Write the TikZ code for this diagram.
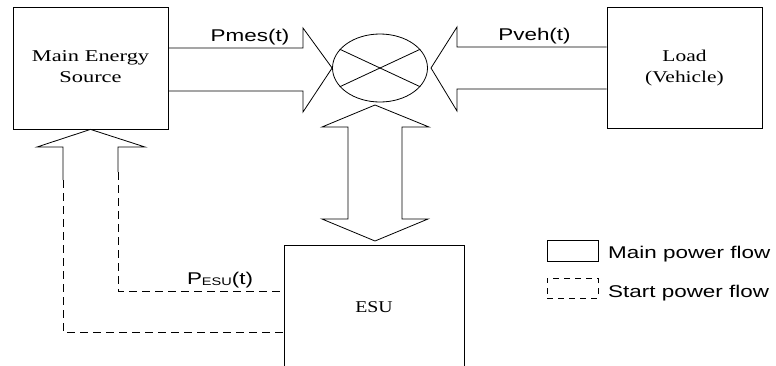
\documentclass[tikz,border=0pt]{standalone}
\usepackage{fontspec}
\setmainfont{Liberation Serif}
\setsansfont{Liberation Sans}
\usetikzlibrary{shapes.geometric,calc}
\newcommand{\hstretch}[2]{\scalebox{#1}[1]{#2}}
\begin{document}
\begin{tikzpicture}[x=1pt,y=-1pt,
  box/.style={draw,line width=0.8pt,rectangle,inner sep=0pt,font=\fontsize{16.5}{21}\selectfont},
  flow/.style={draw,line width=0.8pt,line join=miter},
  startflow/.style={draw,line width=0.8pt,dash pattern=on 8pt off 5pt},
  lbl/.style={font=\sffamily\fontsize{17}{20}\selectfont,inner sep=0pt,anchor=base}]
\useasboundingbox (0,0) rectangle (776,365);
\clip (0,0) rectangle (776,365);
% blocks
\node[box,minimum width=155pt,minimum height=122pt] (mes) at (90.5,68)
  {\hstretch{1.36}{\begin{tabular}{@{}c@{}}Main Energy\\Source\end{tabular}}};
\node[box,minimum width=155pt,minimum height=121pt] (load) at (684.5,67.5)
  {\hstretch{1.3}{\begin{tabular}{@{}c@{}}Load\\(Vehicle)\end{tabular}}};
\node[box,minimum width=180pt,minimum height=124pt] (esu) at (374,307)
  {\hstretch{1.2}{ESU}};
\node[ellipse,draw,line width=0.8pt,minimum width=95pt,minimum height=68pt,inner sep=0pt] (sum) at (380,68) {};
\draw[line width=0.8pt] (sum.155) -- (sum.-25);
\draw[line width=0.8pt] (sum.205) -- (sum.25);
% block arrows
\draw[flow] (mes.east |- 0,48) -- (303,48) -- (303,28) -- (sum.west) -- (303,112) -- (303,91) -- (mes.east |- 0,91);
\coordinate (vehtip) at (431,68);
\draw[flow] (load.west |- 0,47) -- (457,47) -- (457,27) -- (vehtip) -- (457,111) -- (457,89) -- (load.west |- 0,89);
\coordinate (toptip) at (375,105);
\coordinate (bottip) at (375,241);
\draw[flow] (toptip) -- (429,127) -- (402,127) -- (402,219) -- (428,219) -- (bottip) -- (322,219) -- (348,219) -- (348,127) -- (322,127) -- cycle;
\coordinate (upl) at (63,180);
\coordinate (upr) at (118,172);
\draw[flow] (upl) -- (63,147) -- (37,147) -- (mes.south) -- (145,147) -- (118,147) -- (upr);
% start flow (dashed)
\draw[startflow] (upl) -- (63,332) -- (esu.west |- 0,332);
\draw[startflow] (upr) -- (118,291) -- (esu.west |- 0,291);
% labels
\node[lbl] (lpmes) at (250,41) {\hstretch{1.32}{Pmes(t)}};
\node[lbl] (lpveh) at (534.5,40) {\hstretch{1.32}{Pveh(t)}};
\node[lbl] (lpesu) at (220,284) {\hstretch{1.32}{P\raisebox{-1pt}{\fontsize{11}{12}\selectfont ESU}(t)}};
% legend
\node[draw,line width=0.8pt,minimum width=51pt,minimum height=21pt,inner sep=0pt] (legsolid) at (572.5,250.5) {};
\node[draw,line width=0.8pt,dash pattern=on 6pt off 5pt,minimum width=51pt,minimum height=20pt,inner sep=0pt] (legdash) at (572.5,288) {};
\node[lbl,anchor=base west] (legmain) at (608,258) {\hstretch{1.32}{Main power flow}};
\node[lbl,anchor=base west] (legstart) at (608,297) {\hstretch{1.32}{Start power flow}};
\end{tikzpicture}
\end{document}
